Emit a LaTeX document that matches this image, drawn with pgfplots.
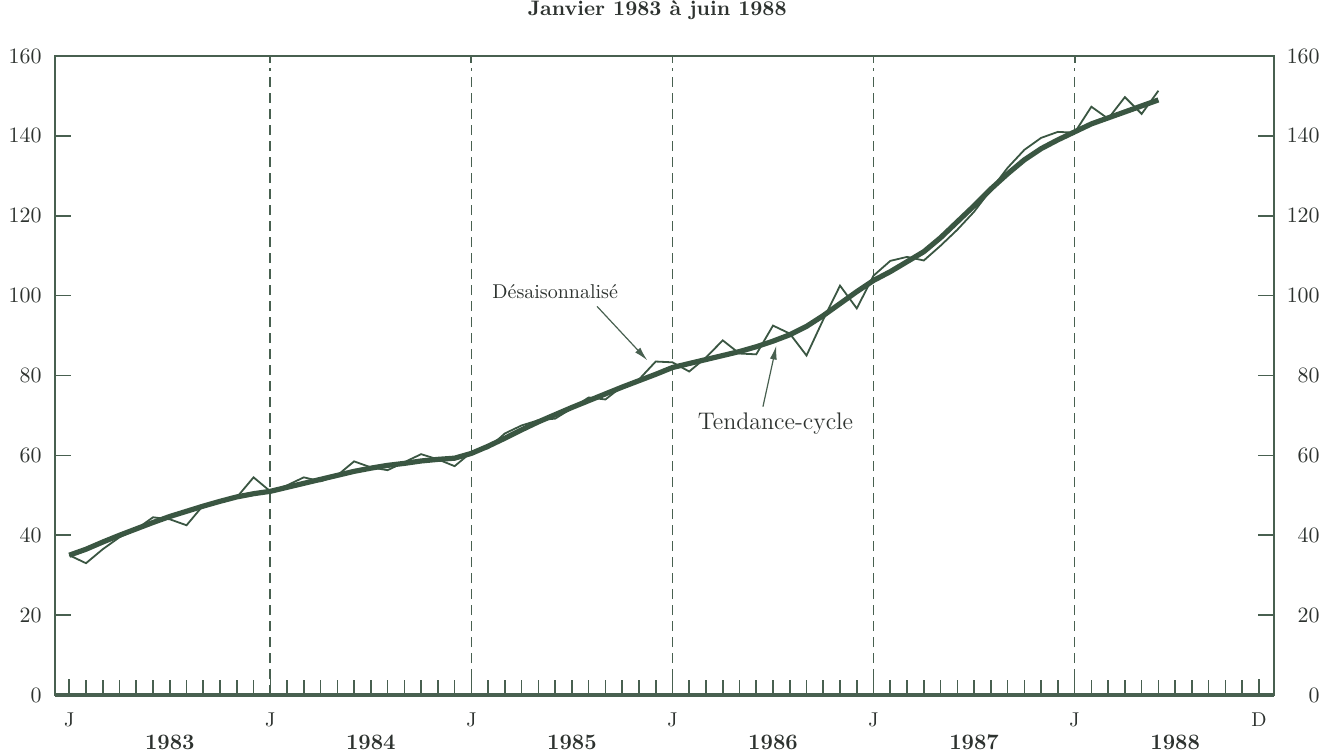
\documentclass[border=0pt]{standalone}
\usepackage{pgfplots}
\usepackage{pgfplotstable}
\pgfplotsset{compat=1.18}
\usetikzlibrary{arrows.meta}
\definecolor{ln}{RGB}{58,86,66}
\definecolor{ax}{RGB}{72,96,80}
\definecolor{tx}{RGB}{45,50,47}
\pgfplotstableread{
m v
0 35
1 36.5
2 38.3
3 40
4 41.6
5 43.2
6 44.7
7 46
8 47.3
9 48.5
10 49.6
11 50.4
12 51
13 52
14 53
15 54
16 55
17 56
18 56.8
19 57.5
20 58
21 58.6
22 59
23 59.3
24 60.5
25 62.3
26 64.3
27 66.4
28 68.4
29 70.2
30 72
31 73.7
32 75.4
33 77.1
34 78.7
35 80.3
36 82
37 83
38 84
39 85
40 86
41 87.2
42 88.6
43 90.2
44 92.3
45 95
46 98
47 101
48 103.8
49 106
50 108.5
51 111
52 114.5
53 118.5
54 122.5
55 126.7
56 130.5
57 134
58 136.8
59 139
60 141
61 143
62 144.5
63 146
64 147.5
65 149
}\trend
\pgfplotstableread{
m v
0 35
1 33
2 36.5
3 39.5
4 41.5
5 44.5
6 44
7 42.5
8 47.5
9 48.5
10 49.5
11 54.5
12 51
13 52.5
14 54.5
15 53.5
16 55
17 58.5
18 57
19 56.3
20 58.3
21 60.3
22 59
23 57.3
24 60.8
25 61.8
26 65.5
27 67.5
28 68.8
29 69.2
30 71.8
31 74.5
32 74
33 77.3
34 79
35 83.5
36 83.3
37 81
38 84.5
39 88.8
40 85.5
41 85.3
42 92.5
43 90.5
44 85
45 94
46 102.5
47 96.8
48 105
49 108.7
50 109.7
51 108.8
52 112.5
53 116.5
54 121
55 126.5
56 132
57 136.5
58 139.5
59 141
60 140.8
61 147.3
62 144.3
63 149.7
64 145.5
65 151.3
}\sa
\begin{document}
\begin{tikzpicture}
\begin{axis}[
  scale only axis, width=609.5pt, height=319.5pt,
  xmin=-0.85, xmax=71.9, ymin=0, ymax=160,
  axis line style={ax, line width=0.9pt},
  tick style={ax, line width=0.8pt},
  tick align=inside,
  xtick pos=bottom, ytick pos=both,
  xtick={0,12,24,36,48,60,71}, xticklabels={J,J,J,J,J,J,D},
  minor xtick={0,...,71},
  major tick length=8pt, minor tick length=7.5pt,
  ytick={0,20,...,160},
  xticklabel style={font=\fontsize{10}{12}\selectfont, text=tx, anchor=center, inner sep=0pt, yshift=-12.5pt},
  yticklabel style={font=\fontsize{11}{13}\selectfont, text=tx, anchor=east, inner sep=0pt, xshift=-6.5pt},
  extra x ticks={6,18,30,42,54,66},
  extra x tick labels={1983,1984,1985,1986,1987,1988},
  extra x tick style={tick style={draw=none}, xticklabel style={font=\bfseries\fontsize{11}{13}\selectfont, yshift=-11pt}},
  title={\bfseries Janvier 1983 à juin 1988},
  title style={at={(0.494,1)}, anchor=center, yshift=17pt, font=\fontsize{10.5}{12}\selectfont, text=tx},
  clip=false,
]
\pgfplotsinvokeforeach{12,24,36,48,60}{
  \draw[ax, dash pattern=on 5pt off 3pt, line width=0.85pt] (axis cs:#1,0) -- (axis cs:#1,157);
  \draw[ax, line width=0.9pt] (axis cs:#1,160) -- (axis cs:#1,158.3);
}
\draw[ax, line width=2pt] (rel axis cs:0,0) -- (rel axis cs:1,0);
\addplot[ln, line width=0.9pt] table[x=m, y=v]{\sa};
\addplot[ln, line width=2.6pt] table[x=m, y=v]{\trend};
\node[font=\fontsize{10}{12}\selectfont, text=tx] at (axis cs:29,101) {Désaisonnalisé};
\draw[ax, line width=0.6pt, -{Latex[length=7pt,width=3.5pt]}] (axis cs:31.5,97.3) -- (axis cs:34.5,83.8);
\node[font=\fontsize{12}{14}\selectfont, text=tx] at (axis cs:42.15,68) {Tendance-cycle};
\draw[ax, line width=0.6pt, -{Latex[length=7pt,width=3.5pt]}] (axis cs:41.4,72.2) -- (axis cs:42.2,87.5);
\end{axis}
\begin{axis}[
  scale only axis, width=609.5pt, height=319.5pt,
  xmin=-0.85, xmax=71.9, ymin=0, ymax=160,
  hide x axis, axis y line*=right, y axis line style={draw=none},
  ytick={0,20,...,160}, major tick length=0pt,
  yticklabel style={font=\fontsize{11}{13}\selectfont, text=tx, anchor=east, inner sep=0pt, xshift=23pt},
]
\end{axis}
\pgfresetboundingbox
\path[use as bounding box] (-27.5pt,-28pt) rectangle (638.5pt,347.5pt);
\end{tikzpicture}
\end{document}
